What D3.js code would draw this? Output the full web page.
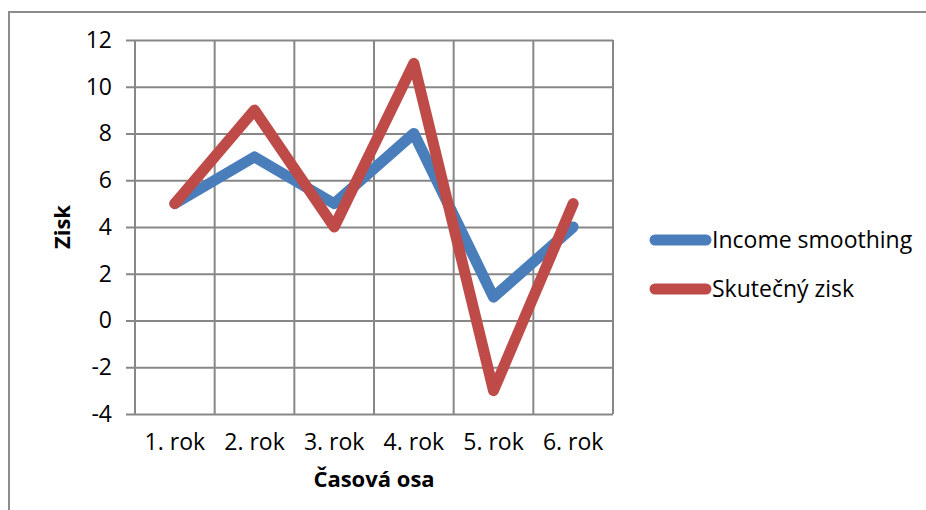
<!DOCTYPE html>
<html>
<head>
<meta charset="utf-8">
<script src="https://cdn.jsdelivr.net/npm/d3@7"></script>
<style>
  html, body { margin: 0; padding: 0; background: #fff; }
  svg { display: block; }
  text { font-family: "Open Sans", "Noto Sans", sans-serif; fill: #000; }
</style>
</head>
<body>
<svg id="chart" width="926" height="510"></svg>
<script>
// Chart data
const categories = ["1. rok", "2. rok", "3. rok", "4. rok", "5. rok", "6. rok"];
const incomeSmoothing = [5, 7, 5, 8, 1, 4];
const skutecnyZisk = [5, 9, 4, 11, -3, 5];
const yTicks = [-4, -2, 0, 2, 4, 6, 8, 10, 12];
const seriesNames = ["Income smoothing", "Skutečný zisk"];
const seriesColors = ["#4a7ebb", "#be4b48"];

const svg = d3.select("#chart");
const W = 926, H = 510;
const plot = { left: 135, right: 613, top: 40, bottom: 414 };
const labelSize = 23;

// Outer chart frame
svg.append("rect")
  .attr("x", 9).attr("y", 12)
  .attr("width", W + 10).attr("height", H + 10)
  .attr("fill", "none")
  .attr("stroke", "#8c8c8c")
  .attr("stroke-width", 2);

const x = d3.scaleBand().domain(categories).range([plot.left, plot.right]).padding(0);
const y = d3.scaleLinear().domain([-4, 12]).range([plot.bottom, plot.top]);

const gridColor = "#878787";

// Horizontal gridlines with tick marks to the left
const yAxis = d3.axisLeft(y).tickValues(yTicks).tickSize(plot.right - plot.left + 9).tickPadding(14).tickFormat(d3.format("d"));
const gy = svg.append("g")
  .attr("transform", `translate(${plot.right},0)`)
  .call(yAxis);
gy.select(".domain").remove();
gy.selectAll(".tick line").attr("stroke", gridColor).attr("stroke-width", 2);
gy.selectAll(".tick text")
  .attr("font-size", labelSize)
  .attr("font-family", "'Open Sans', sans-serif")
  .attr("fill", "#000")
  .text(d => d < 0 ? "-" + Math.abs(d) : d);

// Vertical gridlines at category boundaries
const bounds = categories.map(c => x(c)).concat([plot.right]);
svg.append("g").selectAll("line")
  .data(bounds)
  .join("line")
  .attr("x1", d => d).attr("x2", d => d)
  .attr("y1", plot.top).attr("y2", plot.bottom)
  .attr("stroke", gridColor)
  .attr("stroke-width", 2);

// Category labels
const xAxis = d3.axisBottom(x).tickSize(0).tickPadding(20);
const gx = svg.append("g")
  .attr("transform", `translate(0,${plot.bottom})`)
  .call(xAxis);
gx.select(".domain").remove();
gx.selectAll(".tick text")
  .attr("font-size", labelSize)
  .attr("font-family", "'Open Sans', sans-serif")
  .attr("fill", "#000");

// Axis titles
svg.append("text")
  .attr("x", (plot.left + plot.right) / 2)
  .attr("y", 487)
  .attr("text-anchor", "middle")
  .attr("font-size", 22)
  .attr("font-weight", "bold")
  .text("Časová osa");

svg.append("text")
  .attr("transform", `translate(70,${(plot.top + plot.bottom) / 2}) rotate(-90)`)
  .attr("text-anchor", "middle")
  .attr("font-size", 22)
  .attr("font-weight", "bold")
  .text("Zisk");

// Series lines
const line = d3.line()
  .x((d, i) => x(categories[i]) + x.bandwidth() / 2)
  .y(d => y(d));

[incomeSmoothing, skutecnyZisk].forEach((vals, k) => {
  svg.append("path")
    .datum(vals)
    .attr("d", line)
    .attr("fill", "none")
    .attr("stroke", seriesColors[k])
    .attr("stroke-width", 11)
    .attr("stroke-linejoin", "round")
    .attr("stroke-linecap", "round");
});

// Legend
const legend = svg.append("g");
seriesNames.forEach((name, k) => {
  const ly = 240 + k * 49;
  legend.append("line")
    .attr("x1", 655).attr("x2", 706)
    .attr("y1", ly).attr("y2", ly)
    .attr("stroke", seriesColors[k])
    .attr("stroke-width", 11)
    .attr("stroke-linecap", "round");
  legend.append("text")
    .attr("x", 712)
    .attr("y", ly)
    .attr("dy", "0.35em")
    .attr("font-size", labelSize)
    .text(name);
});
</script>
</body>
</html>
